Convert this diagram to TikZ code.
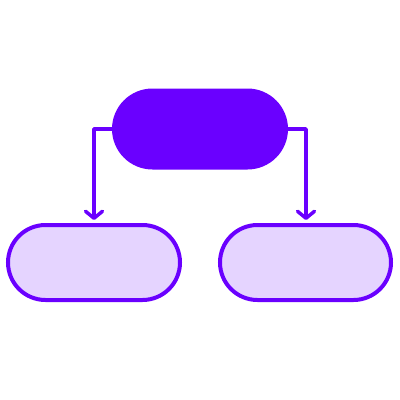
\documentclass[tikz,border=0pt]{standalone}
\usetikzlibrary{arrows.meta,shapes.misc}
\definecolor{pdark}{HTML}{6A00FF}
\definecolor{plight}{HTML}{E5D4FF}
\begin{document}
\begin{tikzpicture}[x=1pt,y=-1pt,
  pilltop/.style={rounded rectangle, fill=pdark, draw=none, inner sep=0,
    minimum width=176pt, minimum height=81pt},
  pillbox/.style={rounded rectangle, draw=pdark, fill=plight, line width=4pt, inner sep=0,
    minimum width=172pt, minimum height=75pt},
  conn/.style={draw=pdark, line width=3.5pt, line cap=round, line join=round,
    -{Straight Barb[length=7pt,width=17pt,line cap=round,line join=round]}}]
\useasboundingbox (0,0) rectangle (400,400);
\node[pilltop] (top) at (200,129) {};
\node[pillbox] (l) at (94,262.5) {};
\node[pillbox, minimum width=171pt] (r) at (305.5,262.5) {};
\coordinate (lt) at (94,220);
\coordinate (rt) at (306,220);
\draw[conn] (top.west) -- (94,129) -- (lt);
\draw[conn] (top.east) -- (306,129) -- (rt);
\end{tikzpicture}
\end{document}
